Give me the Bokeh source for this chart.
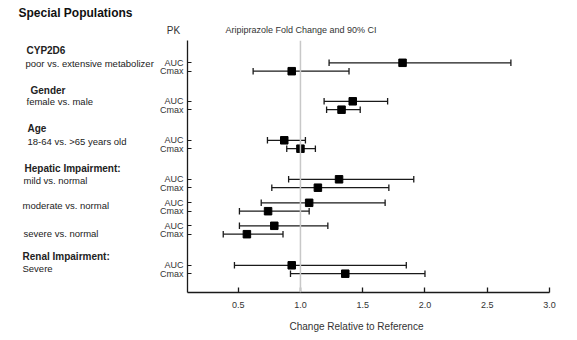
from bokeh.plotting import figure
from bokeh.models import Range1d, FixedTicker, Span, NumeralTickFormatter
from bokeh.layouts import column, row
from bokeh.core.properties import value
from bokeh.embed import file_html
from bokeh.resources import INLINE

# ---- data ----
groups = ["CYP2D6", "Gender", "Age", "Hepatic Impairment:", "", "", "Renal Impairment:"]
comparisons = ["poor vs. extensive metabolizer", "female vs. male", "18-64 vs. >65 years old",
               "mild vs. normal", "moderate vs. normal", "severe vs. normal", "Severe"]
pk_params = ["AUC", "Cmax"]
auc_est = [1.82, 1.42, 0.87, 1.31, 1.07, 0.79, 0.93]
auc_lo = [1.23, 1.19, 0.735, 0.905, 0.685, 0.51, 0.47]
auc_hi = [2.69, 1.70, 1.04, 1.91, 1.68, 1.22, 1.85]
cmax_est = [0.93, 1.33, 1.00, 1.14, 0.74, 0.57, 1.36]
cmax_lo = [0.62, 1.21, 0.89, 0.77, 0.51, 0.38, 0.92]
cmax_hi = [1.39, 1.48, 1.12, 1.71, 1.07, 0.86, 2.00]
x_ticks = [0.5, 1.0, 1.5, 2.0, 2.5, 3.0]
reference_value = 1.0

# ---- layout constants (px) ----
W, H = 577, 340
TOP_H = 40            # header strip
LEFT_W = 155          # left text strip
AXIS_W = 32           # y-axis label panel of main plot
FRAME_W, FRAME_H = 362, 252
RIGHT_B = 28
MAIN_BOTTOM = 24
BOTTOM_H = H - TOP_H - FRAME_H - MAIN_BOTTOM
pair_center = [26.5, 65, 104, 143, 166.5, 189.5, 229]   # px from frame top
half_gap = 4.2
FONT = "Liberation Sans"
INK = "#1a1a1a"
TXT = "#222222"


def blank(width, height, bottom_border=0):
    f = figure(width=width, height=height, output_backend="svg", toolbar_location=None,
               x_range=Range1d(0, width), y_range=Range1d(height - bottom_border, 0),
               x_axis_type=None, y_axis_type=None, min_border=0,
               min_border_bottom=bottom_border)
    f.outline_line_color = None
    f.grid.visible = False
    return f


def put(f, txt, x, y, size="9.5px", bold=False, align="left", color=TXT):
    f.text(x=[x], y=[y], text=[txt], text_font=value(FONT), text_font_size=value(size),
           text_font_style="bold" if bold else "normal", text_align=align,
           text_baseline="middle", text_color=color)


# header
top = blank(W, TOP_H)
put(top, "Special Populations", 18, 12, size="12px", bold=True, color="#111111")
put(top, "PK", 173, 30, size="10px", align="center", color="#333333")
put(top, "Aripiprazole Fold Change and 90% CI", 225, 29.5, size="9px", color="#333333")

# left strip: group and comparison labels (y measured from frame top)
left = blank(LEFT_W, FRAME_H + MAIN_BOTTOM, bottom_border=MAIN_BOTTOM)
group_y = [10, 50, 88, 127.5, None, None, 216]
group_x = [26, 30, 27, 24, None, None, 22]
comp_y = [22.5, 61, 101, 140, 165, 193, 228]
comp_x = [25, 26, 27, 23, 22, 23, 22]
for g, gx, gy in zip(groups, group_x, group_y):
    if g:
        put(left, g, gx, gy, size="10px", bold=True)
for c, cx, cy in zip(comparisons, comp_x, comp_y):
    put(left, c, cx, cy, size="9.5px")

# main forest plot
p = figure(width=AXIS_W + FRAME_W + RIGHT_B, height=FRAME_H + MAIN_BOTTOM,
           output_backend="svg", toolbar_location=None,
           x_range=Range1d(0.093, 3.0), y_range=Range1d(FRAME_H, 0),
           min_border_left=AXIS_W, min_border_right=RIGHT_B, min_border_top=0,
           min_border_bottom=MAIN_BOTTOM)
p.outline_line_color = None
p.grid.visible = False

p.add_layout(Span(location=reference_value, dimension="height", line_color="#c8c8c8", line_width=1.5))

auc_y = [c - half_gap for c in pair_center]
cmax_y = [c + half_gap for c in pair_center]
cap = 3.2
for ys, est, lo, hi in [(auc_y, auc_est, auc_lo, auc_hi), (cmax_y, cmax_est, cmax_lo, cmax_hi)]:
    p.segment(x0=lo, x1=hi, y0=ys, y1=ys, line_color=INK, line_width=1.3)
    p.segment(x0=lo, x1=lo, y0=[y - cap for y in ys], y1=[y + cap for y in ys], line_color=INK, line_width=1.3)
    p.segment(x0=hi, x1=hi, y0=[y - cap for y in ys], y1=[y + cap for y in ys], line_color=INK, line_width=1.3)
    p.scatter(x=est, y=ys, marker="square", size=7.5, fill_color="black", line_color="black")

xa = p.xaxis[0]
xa.ticker = FixedTicker(ticks=x_ticks)
xa.formatter = NumeralTickFormatter(format="0.0")
xa.major_tick_in = 5
xa.major_tick_out = 0
xa.minor_tick_line_color = None
xa.major_label_standoff = 9
xa.major_label_text_font = FONT
xa.major_label_text_font_size = "9px"
xa.major_label_text_color = "#333333"
xa.axis_line_color = INK
xa.axis_line_width = 1.3
xa.major_tick_line_color = INK
xa.major_tick_line_width = 1.3

ya = p.yaxis[0]
ya.ticker = FixedTicker(ticks=auc_y + cmax_y)
ya.major_label_overrides = {**{y: pk_params[0] for y in auc_y}, **{y: pk_params[1] for y in cmax_y}}
ya.major_tick_in = 4
ya.major_tick_out = 0
ya.minor_tick_line_color = None
ya.major_label_standoff = 4
ya.major_label_text_font = FONT
ya.major_label_text_font_size = "9px"
ya.major_label_text_color = "#333333"
ya.axis_line_color = INK
ya.axis_line_width = 1.3
ya.major_tick_line_color = INK

# footer with the x-axis title
bottom = blank(W, BOTTOM_H)
put(bottom, "Change Relative to Reference", 356, 10, size="10px", align="center", color="#333333")

layout = column(top, row(left, p), bottom)
open("out.html", "w").write(file_html(layout, INLINE))
